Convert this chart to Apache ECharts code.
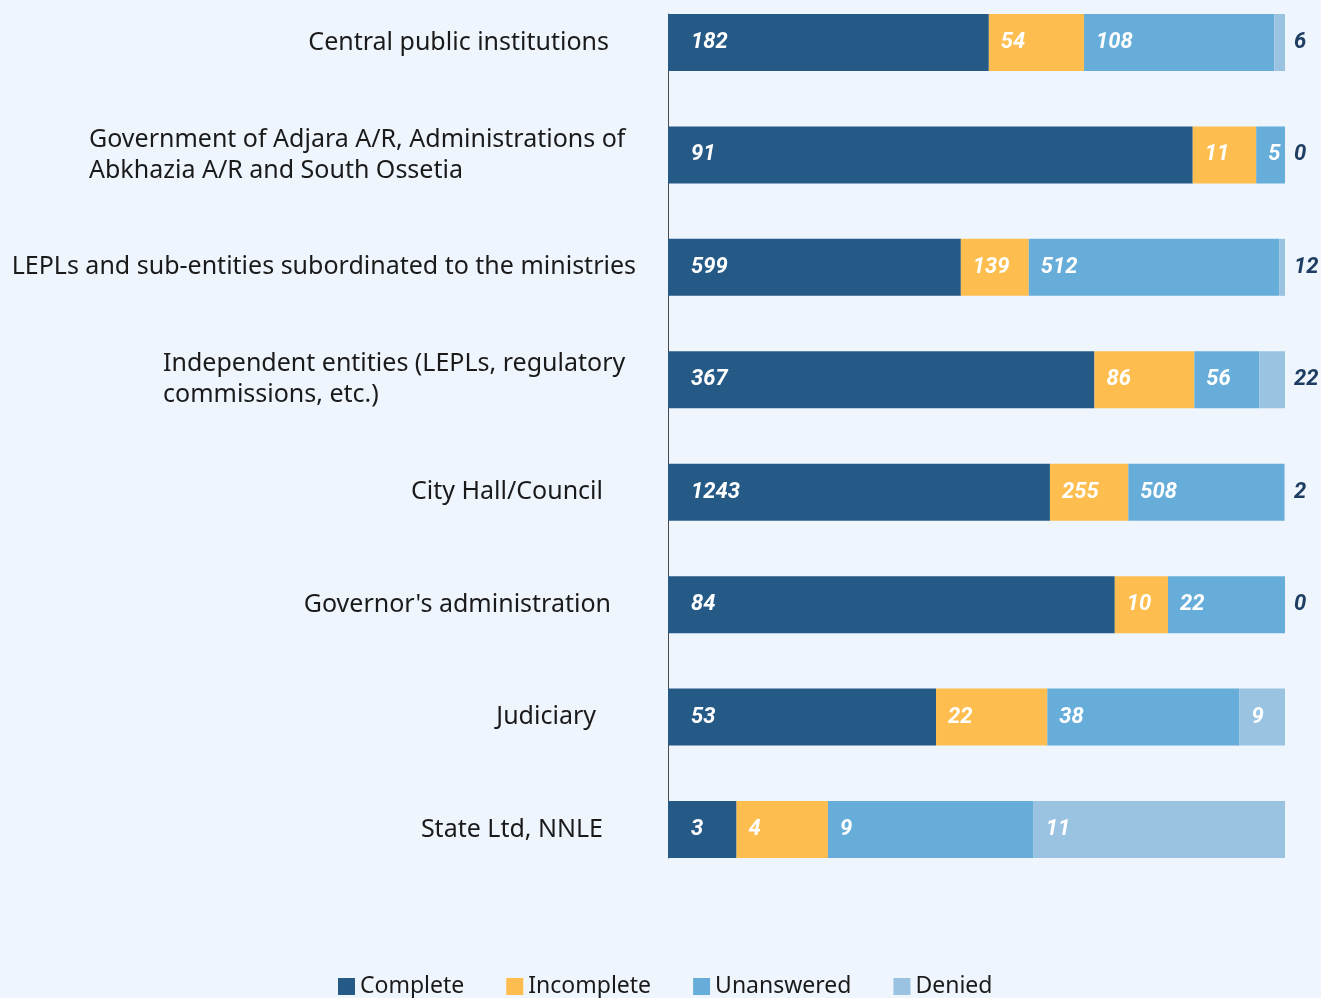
<!DOCTYPE html>
<html style="height: 100%">

<head>
    <meta charset="utf-8">
</head>

<body style="height: 100%; margin: 0; background: #eff5fd">
    <div id="container" style="width: 1321px; height: 998px"></div>
    <script type="text/javascript" src="https://cdn.jsdelivr.net/npm/echarts@6/dist/echarts.min.js"></script>
    <script type="text/javascript">
        var categories = [
            'Central public institutions',
            'Government of Adjara A/R, Administrations of\nAbkhazia A/R and South Ossetia',
            'LEPLs and sub-entities subordinated to the ministries',
            'Independent entities (LEPLs, regulatory\ncommissions, etc.)',
            'City Hall/Council',
            "Governor's administration",
            'Judiciary',
            'State Ltd, NNLE'
        ];
        var seriesNames = ['Complete', 'Incomplete', 'Unanswered', 'Denied'];
        var complete = [182, 91, 599, 367, 1243, 84, 53, 3];
        var incomplete = [54, 11, 139, 86, 255, 10, 22, 4];
        var unanswered = [108, 5, 512, 56, 508, 22, 38, 9];
        var denied = [6, 0, 12, 22, 2, 0, 9, 11];

        var colors = ['#255a87', '#febd4f', '#66aed9', '#9ac3e2'];
        // label right padding per category, to follow the uneven right edges
        var labelPad = [27, 14, 0, 15, 33, 25, 40, 33];
        var blockWidth = [0, 533, 0, 458, 0, 0, 0, 0];

        var dom = document.getElementById("container");
        var myChart = echarts.init(dom);

        var raw = [complete, incomplete, unanswered, denied];
        var totals = categories.map(function (c, i) {
            return complete[i] + incomplete[i] + unanswered[i] + denied[i];
        });

        var fontFamily = '"Noto Sans", sans-serif';
        var valueFont = 'Roboto, sans-serif';

        var series = raw.map(function (arr, s) {
            return {
                name: seriesNames[s],
                type: 'bar',
                stack: 'all',
                barWidth: 57,
                clip: false,
                itemStyle: { color: colors[s] },
                data: arr.map(function (v, i) {
                    var item = { value: v / totals[i] * 100 };
                    if (s === 3 && v / totals[i] < 0.05) {
                        item.label = { position: 'right', distance: 9, color: '#1d3d62' };
                    }
                    return item;
                }),
                label: {
                    show: true,
                    position: 'insideLeft',
                    distance: s === 0 ? 23 : 12,
                    color: '#ffffff',
                    fontFamily: valueFont,
                    fontStyle: 'italic',
                    fontWeight: 'bold',
                    fontSize: 22,
                    formatter: function (p) {
                        return raw[p.seriesIndex][p.dataIndex];
                    }
                }
            };
        });

        var option = {
            backgroundColor: '#eff5fd',
            animation: false,
            legend: {
                data: seriesNames,
                bottom: -5,
                left: 333,
                icon: 'rect',
                itemWidth: 17,
                itemHeight: 17,
                itemGap: 42,
                textStyle: { fontFamily: fontFamily, fontSize: 23, color: '#1a1a1a' }
            },
            grid: [
                { left: 668, right: 36, top: 42.5, bottom: 168.5 },
                { left: 668, right: 36, top: 14, bottom: 140 }
            ],
            xAxis: [
                { type: 'value', min: 0, max: 100, show: false },
                { type: 'value', gridIndex: 1, show: false }
            ],
            yAxis: [
                {
                    type: 'category',
                    inverse: true,
                    boundaryGap: false,
                    data: categories.map(function (c, i) {
                        return { value: c, textStyle: { padding: [0, labelPad[i], 0, 0] } };
                    }),
                    axisLine: { show: false },
                    axisTick: { show: false },
                    splitLine: { show: false },
                    axisLabel: {
                        margin: 32,
                        fontFamily: fontFamily,
                        fontSize: 25,
                        color: '#1a1a1a',
                        lineHeight: 31,
                        formatter: function (v, i) {
                            if (v.indexOf('\n') < 0) return v;
                            var key = 'w' + i;
                            return v.split('\n').map(function (l) {
                                return '{' + key + '|' + l + '}';
                            }).join('\n');
                        },
                        rich: {
                            w1: { width: blockWidth[1], align: 'left', fontFamily: fontFamily, fontSize: 25, color: '#1a1a1a', lineHeight: 31 },
                            w3: { width: blockWidth[3], align: 'left', fontFamily: fontFamily, fontSize: 25, color: '#1a1a1a', lineHeight: 31 }
                        }
                    }
                },
                {
                    type: 'value',
                    gridIndex: 1,
                    axisLine: { show: true, lineStyle: { color: '#4a4a4a', width: 1 } },
                    axisTick: { show: false },
                    axisLabel: { show: false },
                    splitLine: { show: false }
                }
            ],
            series: series
        };

        myChart.setOption(option, true);
    </script>
</body>

</html>
